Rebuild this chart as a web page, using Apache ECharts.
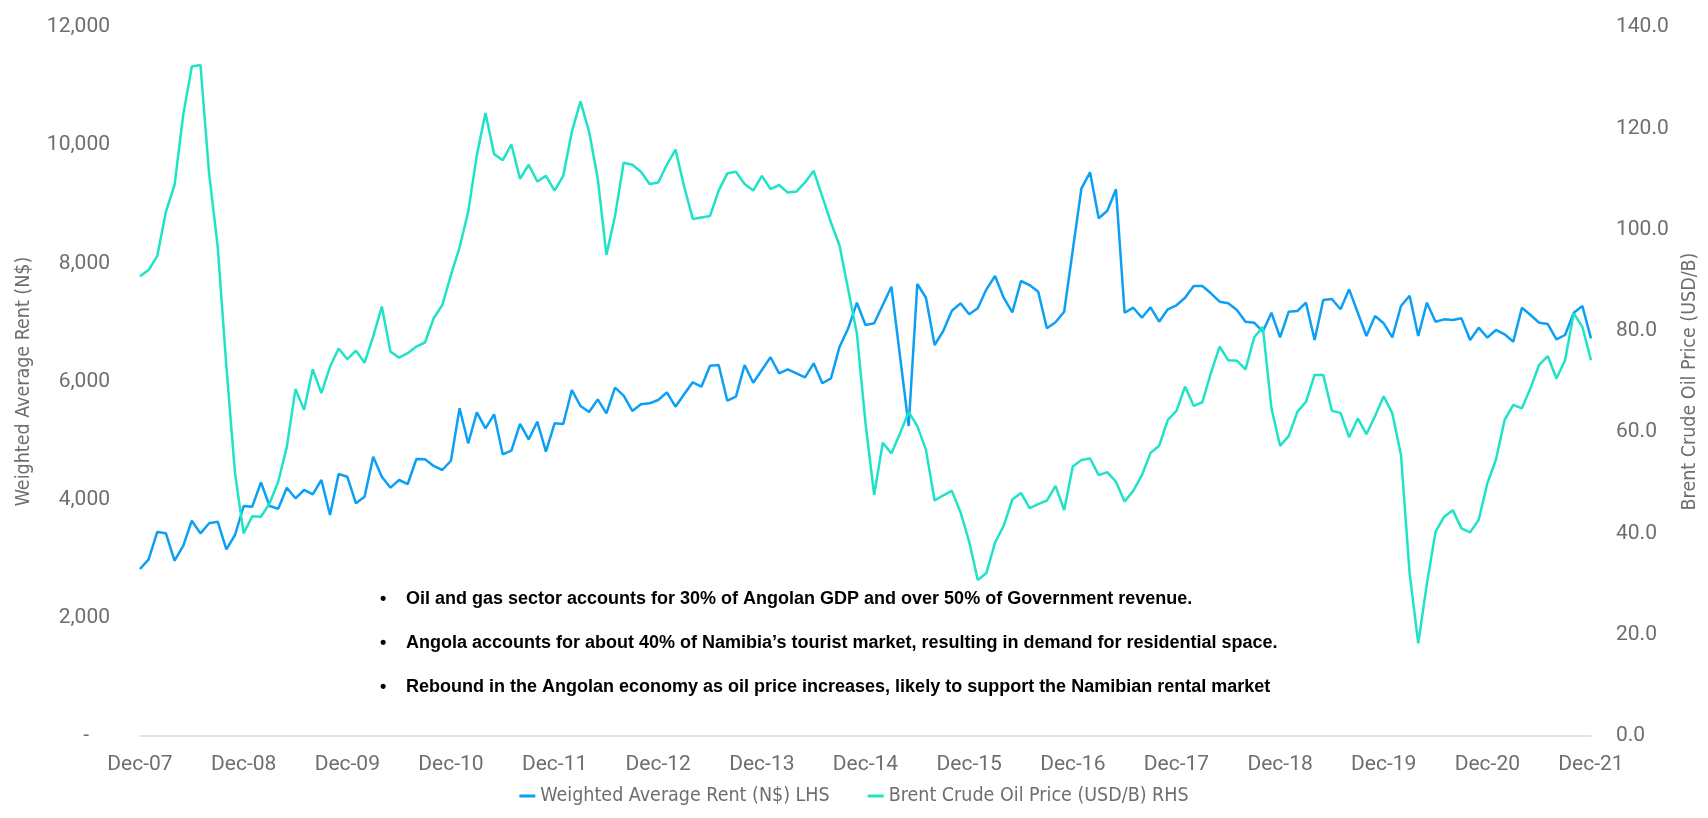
<!DOCTYPE html>
<html>
<head>
<meta charset="utf-8">
<script src="https://cdn.jsdelivr.net/npm/echarts@6/dist/echarts.min.js"></script>
<style>
html,body{margin:0;padding:0;background:#fff;}
#chart{width:1708px;height:818px;}
</style>
</head>
<body>
<div id="chart"></div>
<script>
// Month categories Dec-07 .. Dec-21
const monthNames = ['Jan','Feb','Mar','Apr','May','Jun','Jul','Aug','Sep','Oct','Nov','Dec'];
const categories = ['Dec-07'];
for (let y = 8; y <= 21; y++) {
  for (let m = 0; m < 12; m++) {
    categories.push(monthNames[m] + '-' + (y < 10 ? '0' + y : '' + y));
  }
}
const xTickLabels = ['Dec-07','Dec-08','Dec-09','Dec-10','Dec-11','Dec-12','Dec-13','Dec-14','Dec-15','Dec-16','Dec-17','Dec-18','Dec-19','Dec-20','Dec-21'];

// Weighted Average Rent (N$) - LHS
const rent = [
 2826,2990,3453,3430,2967,3216,3644,3430,3600,3627,3160,3402,
 3893,3881,4294,3893,3847,4203,4023,4164,4091,4333,3740,4434,
 4389,3938,4050,4727,4389,4203,4333,4265,4688,4683,4570,4502,
 4659,5546,4954,5479,5208,5445,4767,4829,5281,5021,5320,4812,
 5292,5281,5856,5585,5484,5698,5462,5895,5760,5501,5614,5631,
 5687,5817,5574,5783,5986,5912,6267,6279,5675,5743,6279,5980,
 6195,6410,6139,6206,6139,6071,6308,5970,6054,6589,6900,7334,
 6956,6985,7295,7605,6420,5247,7650,7418,6618,6855,7198,7323,
 7137,7239,7560,7786,7418,7171,7701,7633,7520,6900,7002,7181,
 8225,9270,9540,8762,8891,9253,7164,7249,7080,7256,7012,7222,
 7290,7418,7616,7616,7493,7351,7323,7210,7012,6995,6843,7164,
 6748,7181,7193,7334,6702,7379,7396,7222,7560,7164,6770,7108,
 6985,6748,7278,7452,6770,7334,7012,7052,7041,7069,6702,6911,
 6742,6872,6799,6674,7249,7125,6995,6973,6714,6787,7164,7278,
 6731
];

// Brent Crude Oil Price (USD/B) - RHS
const brent = [
 90.8,92.0,94.8,103.5,108.8,122.6,132.2,132.5,111.1,96.6,73.0,51.9,
 40.0,43.4,43.3,45.9,50.2,57.1,68.5,64.4,72.4,67.7,72.9,76.5,
 74.4,76.1,73.7,78.9,84.8,75.9,74.7,75.6,76.9,77.7,82.5,85.1,
 91.0,96.5,103.5,114.7,123.0,114.9,113.7,116.8,110.0,112.8,109.5,110.6,
 107.7,110.6,119.3,125.3,119.3,110.1,95.0,102.7,113.2,112.8,111.4,109.0,
 109.3,112.8,115.8,108.5,102.1,102.4,102.7,107.7,111.1,111.4,109.0,107.7,
 110.6,108.0,108.8,107.3,107.5,109.3,111.6,106.5,101.4,96.8,88.1,79.5,
 61.8,47.6,57.9,55.8,59.8,64.0,61.2,56.5,46.5,47.5,48.4,44.2,
 38.4,30.8,32.2,38.2,41.5,46.7,48.0,45.0,45.8,46.5,49.4,44.6,
 53.2,54.5,54.8,51.5,52.1,50.2,46.3,48.4,51.5,55.9,57.3,62.4,
 64.2,69.0,65.2,65.9,71.7,76.9,74.2,74.1,72.4,78.7,80.8,64.7,
 57.3,59.2,64.0,66.0,71.3,71.3,64.2,63.8,59.0,62.7,59.6,63.2,
 67.1,63.7,55.5,32.1,18.3,30.1,40.3,43.3,44.6,41.0,40.2,42.7,
 49.9,54.6,62.4,65.4,64.7,68.7,73.3,75.0,70.6,74.2,83.5,80.8,
 74.2
];

const leftTicks = [0, 2000, 4000, 6000, 8000, 10000, 12000];
const rightTicks = [0, 20, 40, 60, 80, 100, 120, 140];

const notes = [
  'Oil and gas sector accounts for 30% of Angolan GDP and over 50% of Government revenue.',
  'Angola accounts for about 40% of Namibia\u2019s tourist market, resulting in demand for residential space.',
  'Rebound in the Angolan economy as oil price increases, likely to support the Namibian rental market'
];

const BLUE = '#0BA0F5';
const TEAL = '#1FE3C6';
const GREY = '#6e6e6e';
const TICKFONT = 'Roboto';
const NARROW = "'Liberation Sans Narrow', 'DejaVu Sans Condensed', 'Roboto'";

const chart = echarts.init(document.getElementById('chart'), null, {renderer: 'canvas'});

const noteGraphics = [];
const noteY = [601, 645, 689];
notes.forEach((t, i) => {
  noteGraphics.push({
    type: 'text', left: 380, top: noteY[i] - 11,
    style: { text: '\u2022', font: 'bold 18px "Liberation Sans", Arial', fill: '#000' }
  });
  noteGraphics.push({
    type: 'text', left: 406, top: noteY[i] - 11,
    style: { text: t, font: 'bold 18px "Liberation Sans", Arial', fill: '#000' }
  });
});

chart.setOption({
  animation: false,
  backgroundColor: '#fff',
  grid: { left: 140, right: 117, top: 27, bottom: 82, containLabel: false },
  legend: {
    bottom: 7,
    left: 'center',
    itemWidth: 16, itemHeight: 3, itemGap: 38,
    icon: 'rect',
    textStyle: { fontFamily: NARROW, fontSize: 19.5, color: GREY },
    data: ['Weighted Average Rent (N$) LHS', 'Brent Crude Oil Price (USD/B) RHS']
  },
  xAxis: {
    type: 'category',
    data: categories,
    boundaryGap: false,
    axisLine: { lineStyle: { color: '#d9d9d9', width: 1.5 } },
    axisTick: { show: false },
    axisLabel: {
      interval: 11, fontFamily: TICKFONT, fontSize: 21, color: GREY, margin: 18,
      formatter: (v) => xTickLabels.indexOf(v) >= 0 ? v : ''
    },
    splitLine: { show: false }
  },
  yAxis: [
    {
      type: 'value', min: leftTicks[0], max: leftTicks[leftTicks.length - 1], interval: 2000,
      name: 'Weighted Average Rent (N$)', nameLocation: 'middle', nameGap: 106,
      nameTextStyle: { fontFamily: NARROW, fontSize: 19.5, color: GREY },
      axisLine: { show: false }, axisTick: { show: false }, splitLine: { show: false },
      axisLabel: {
        fontFamily: TICKFONT, fontSize: 21, color: GREY, margin: 30,
        formatter: (v) => v === 0 ? '-    ' : v.toLocaleString('en-US')
      }
    },
    {
      type: 'value', min: rightTicks[0], max: rightTicks[rightTicks.length - 1], interval: 20,
      name: 'Brent Crude Oil Price (USD/B)', nameLocation: 'middle', nameGap: 86,
      nameTextStyle: { fontFamily: NARROW, fontSize: 19.5, color: GREY },
      axisLine: { show: false }, axisTick: { show: false }, splitLine: { show: false },
      axisLabel: {
        fontFamily: TICKFONT, fontSize: 21, color: GREY, margin: 25,
        formatter: (v) => v.toFixed(1)
      }
    }
  ],
  series: [
    {
      name: 'Weighted Average Rent (N$) LHS', type: 'line', yAxisIndex: 0,
      data: rent, symbol: 'none', color: BLUE,
      lineStyle: { color: BLUE, width: 2.5 }
    },
    {
      name: 'Brent Crude Oil Price (USD/B) RHS', type: 'line', yAxisIndex: 1,
      data: brent, symbol: 'none', color: TEAL,
      lineStyle: { color: TEAL, width: 2.5 }
    }
  ],
  graphic: noteGraphics
});
</script>
</body>
</html>
